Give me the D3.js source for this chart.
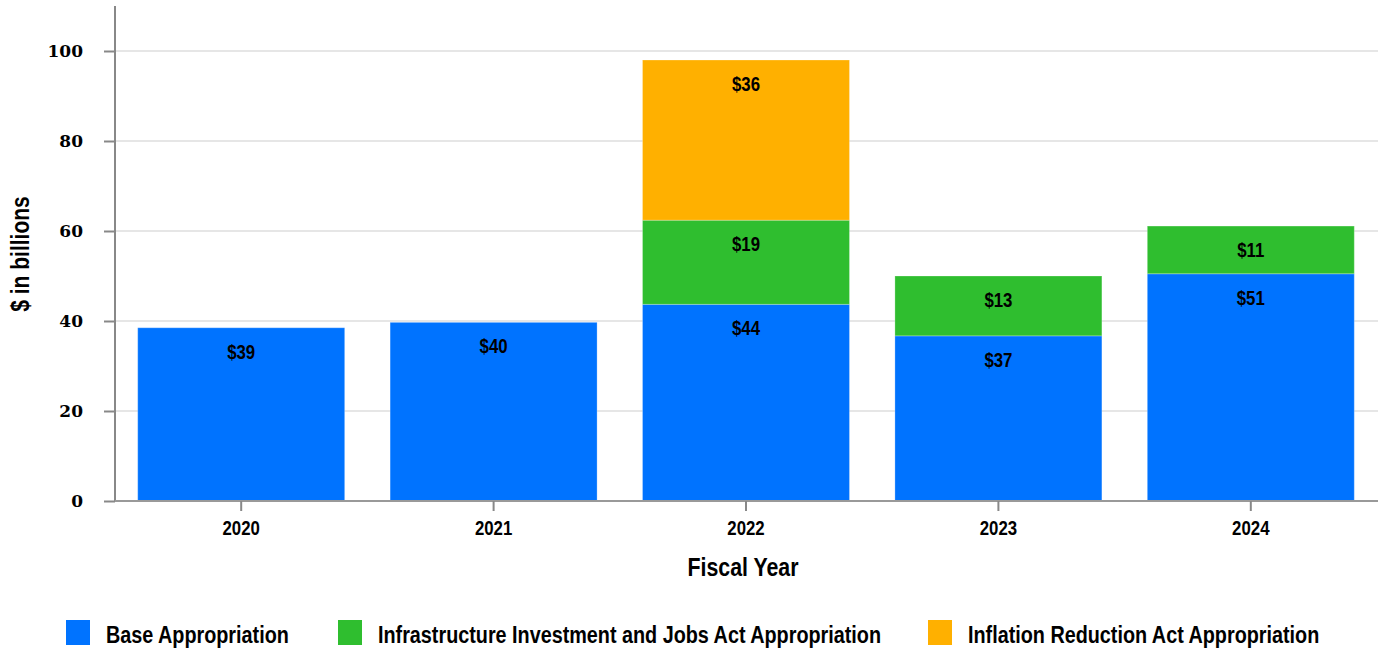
<!DOCTYPE html>
<html>
<head>
<meta charset="utf-8">
<script src="https://cdn.jsdelivr.net/npm/d3@7"></script>
<style>
  html, body { margin: 0; padding: 0; background: #fff; }
  svg { display: block; }
</style>
</head>
<body>
<svg id="chart" width="1382" height="650"></svg>
<script>
const years = ["2020", "2021", "2022", "2023", "2024"];
const seriesNames = [
  "Base Appropriation",
  "Infrastructure Investment and Jobs Act Appropriation",
  "Inflation Reduction Act Appropriation"
];
const baseValues = [38.5, 39.7, 43.7, 36.7, 50.5];
const iijaValues = [0, 0, 18.7, 13.3, 10.6];
const iraValues  = [0, 0, 35.6, 0, 0];
const yTicks = [0, 20, 40, 60, 80, 100];
const colors = ["#0073ff", "#2fbe2f", "#ffb000"];

const svg = d3.select("#chart");
const x = d3.scaleBand().domain(years).range([115, 1377]).paddingInner(0.18).paddingOuter(0.09);
const y = d3.scaleLinear().domain([0, 110]).range([501, 6]);

const sans = "'Liberation Sans', Arial, sans-serif";
function condense(sel, factor) {
  const f = factor || 0.82;
  sel.each(function () {
    const w = this.getComputedTextLength();
    this.setAttribute("textLength", w * f);
    this.setAttribute("lengthAdjust", "spacingAndGlyphs");
  });
}

// gridlines
svg.append("g").selectAll("line").data(yTicks.filter(d => d > 0)).join("line")
  .attr("x1", 115).attr("x2", 1378)
  .attr("y1", d => y(d)).attr("y2", d => y(d))
  .attr("stroke", "#e6e6e6").attr("stroke-width", 2);

// stacked data
const table = years.map((yr, i) => ({ year: yr, s0: baseValues[i], s1: iijaValues[i], s2: iraValues[i] }));
const stack = d3.stack().keys(["s0", "s1", "s2"]);
const layers = stack(table);

const gBars = svg.append("g");
layers.forEach((layer, li) => {
  const segs = layer.filter(d => d[1] - d[0] > 0);
  gBars.append("g").selectAll("rect").data(segs).join("rect")
    .attr("x", d => x(d.data.year))
    .attr("width", x.bandwidth())
    .attr("y", d => y(d[1]))
    .attr("height", d => y(d[0]) - y(d[1]))
    .attr("fill", colors[li])
    .attr("stroke", "rgba(255,255,255,0.25)")
    .attr("stroke-width", 1);
  gBars.append("g").selectAll("text").data(segs).join("text")
    .attr("x", d => x(d.data.year) + x.bandwidth() / 2)
    .attr("y", d => y(d[1]) + 31)
    .attr("text-anchor", "middle")
    .attr("font-family", sans).attr("font-weight", "bold").attr("font-size", 20)
    .attr("fill", "#000")
    .text(d => "$" + Math.round(d[1] - d[0]))
    .call(condense, 0.84);
});

// y axis
const yAxis = svg.append("g").attr("transform", "translate(115,0)")
  .call(d3.axisLeft(y).tickValues(yTicks).tickSize(11).tickPadding(21).tickFormat(d3.format("d")));
yAxis.select(".domain").attr("stroke", "#888").attr("stroke-width", 2).attr("d", "M0,6V501");
yAxis.selectAll(".tick line").attr("stroke", "#888").attr("stroke-width", 2);
yAxis.selectAll(".tick text")
  .attr("font-family", "'DejaVu Serif', serif").attr("font-weight", "bold").attr("font-size", 17)
  .attr("fill", "#000");

// x axis
const xAxis = svg.append("g").attr("transform", "translate(0,501)")
  .call(d3.axisBottom(x).tickSize(10).tickPadding(10));
xAxis.select(".domain").attr("stroke", "#999").attr("stroke-width", 2).attr("d", "M115,0H1378");
xAxis.selectAll(".tick line").attr("stroke", "#888").attr("stroke-width", 2);
xAxis.selectAll(".tick text")
  .attr("font-family", sans).attr("font-weight", "bold").attr("font-size", 20)
  .attr("fill", "#000")
  .call(condense, 0.84);

// axis titles
svg.append("text")
  .attr("transform", "translate(29,254) rotate(-90)")
  .attr("text-anchor", "middle")
  .attr("font-family", sans).attr("font-weight", "bold").attr("font-size", 25)
  .attr("fill", "#000")
  .text("$ in billions")
  .call(condense, 0.84);

svg.append("text")
  .attr("x", 743).attr("y", 576)
  .attr("text-anchor", "middle")
  .attr("font-family", sans).attr("font-weight", "bold").attr("font-size", 26)
  .attr("fill", "#000")
  .text("Fiscal Year")
  .call(condense, 0.82);

// legend
const legendX = [66, 338, 928];
const lg = svg.append("g");
seriesNames.forEach((name, i) => {
  lg.append("rect").attr("x", legendX[i]).attr("y", 620).attr("width", 24).attr("height", 25)
    .attr("fill", colors[i]);
  lg.append("text").attr("x", legendX[i] + 40).attr("y", 643)
    .attr("font-family", sans).attr("font-weight", "bold").attr("font-size", 23)
    .attr("fill", "#000")
    .text(name)
    .call(condense, 0.86);
});
</script>
</body>
</html>
